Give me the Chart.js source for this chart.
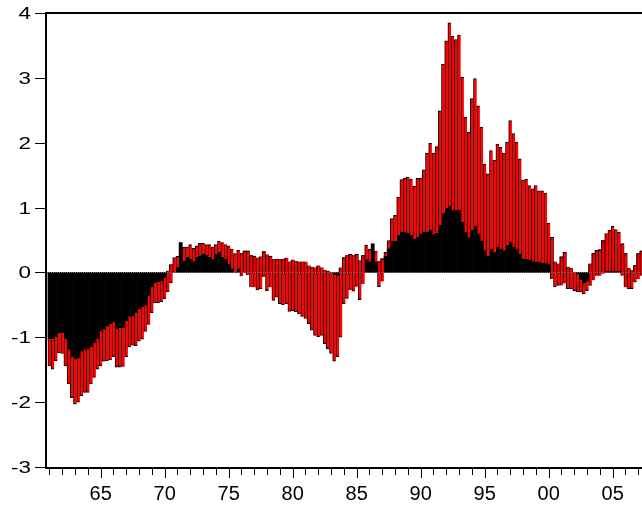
<!DOCTYPE html>
<html>
<head>
<meta charset="utf-8">
<script src="https://cdn.jsdelivr.net/npm/chart.js@4/dist/chart.umd.min.js"></script>
<style>
  html, body { margin: 0; padding: 0; background: #fff; }
  #wrap { width: 642px; height: 506px; }
</style>
</head>
<body>
<div id="wrap"><canvas id="chart"></canvas></div>
<script>
// quarterly data, 1961Q1 onwards
const startYear = 1961;

// black part of each bar (from zero)
const blackPart = [
  -1.03, -1.03, -0.99, -0.93, -0.93, -1.03, -1.19, -1.30, -1.34, -1.32,
  -1.22, -1.19, -1.18, -1.15, -1.09, -1.03, -0.90, -0.88, -0.83, -0.80,
  -0.77, -0.87, -0.86, -0.86, -0.75, -0.68, -0.68, -0.62, -0.57, -0.53,
  -0.51, -0.37, -0.23, -0.16, -0.15, -0.13, -0.08, 0.02, 0.12, 0.00,
  0.08, 0.46, 0.18, 0.24, 0.21, 0.17, 0.24, 0.26, 0.29, 0.27,
  0.24, 0.21, 0.29, 0.31, 0.24, 0.21, 0.13, 0.06, 0.00, 0.06,
  0.29, 0.33, 0.33, 0.26, 0.25, 0.22, 0.24, 0.32, 0.27, 0.25,
  0.20, 0.20, 0.20, 0.20, 0.22, 0.16, 0.19, 0.17, 0.16, 0.16,
  0.16, 0.10, 0.08, 0.07, 0.10, 0.07, 0.03, 0.02, 0.00, -0.04,
  -0.05, 0.07, 0.23, 0.26, 0.28, 0.26, 0.28, 0.18, 0.26, 0.20,
  0.17, 0.44, 0.16, 0.17, 0.21, 0.25, 0.37, 0.48, 0.48, 0.58,
  0.63, 0.62, 0.61, 0.58, 0.52, 0.55, 0.60, 0.63, 0.63, 0.66,
  0.59, 0.61, 0.73, 0.91, 0.99, 1.03, 0.96, 0.96, 0.96, 0.78,
  0.62, 0.54, 0.65, 0.72, 0.60, 0.49, 0.34, 0.25, 0.36, 0.31,
  0.39, 0.36, 0.34, 0.42, 0.47, 0.39, 0.36, 0.29, 0.21, 0.21,
  0.19, 0.17, 0.16, 0.16, 0.15, 0.14, 0.13, 0.54, 0.16, 0.13,
  0.24, 0.31, 0.08, 0.06, 0.00, -0.02, -0.12, -0.16, -0.14, 0.13,
  0.29, 0.34, 0.35, 0.49, 0.02, 0.02, 0.02, 0.02, 0.02, 0.44,
  0.29, 0.06, 0.03, 0.11, 0.29, 0.33
];

// where the red part of each bar ends
const redEnd = [
  -1.44, -1.49, -1.36, -1.24, -1.25, -1.44, -1.72, -1.93, -2.03, -2.00,
  -1.90, -1.85, -1.85, -1.72, -1.62, -1.49, -1.44, -1.37, -1.36, -1.35,
  -1.30, -1.46, -1.46, -1.45, -1.30, -1.15, -1.12, -1.13, -1.06, -1.03,
  -0.91, -0.80, -0.62, -0.47, -0.47, -0.45, -0.41, -0.30, -0.16, 0.23,
  0.25, 0.45, 0.39, 0.39, 0.43, 0.37, 0.41, 0.45, 0.45, 0.43,
  0.43, 0.39, 0.43, 0.48, 0.46, 0.43, 0.41, 0.36, 0.29, 0.34,
  -0.06, 0.00, -0.04, -0.22, -0.23, -0.27, -0.25, -0.07, -0.28, -0.23,
  -0.43, -0.38, -0.48, -0.50, -0.48, -0.60, -0.59, -0.61, -0.64, -0.68,
  -0.71, -0.79, -0.89, -0.97, -0.99, -0.97, -1.10, -1.18, -1.25, -1.37,
  -1.30, -1.00, -0.48, -0.40, -0.27, -0.29, -0.22, -0.42, -0.18, 0.42,
  0.36, 0.43, 0.33, -0.22, -0.14, 0.31, 0.49, 0.83, 0.88, 1.16,
  1.43, 1.45, 1.47, 1.44, 1.33, 1.45, 1.45, 1.58, 1.84, 1.99,
  1.84, 1.94, 2.49, 3.21, 3.57, 3.85, 3.64, 3.59, 3.66, 3.01,
  2.39, 2.16, 2.68, 2.99, 2.57, 2.24, 1.67, 1.52, 1.88, 1.73,
  1.98, 1.93, 1.84, 2.01, 2.34, 2.14, 2.01, 1.75, 1.42, 1.44,
  1.34, 1.29, 1.34, 1.26, 1.26, 1.22, 0.76, -0.10, -0.22, -0.20,
  -0.20, -0.17, -0.25, -0.25, -0.28, -0.30, -0.30, -0.33, -0.28, -0.20,
  -0.12, -0.05, -0.05, -0.02, 0.60, 0.65, 0.71, 0.66, 0.62, -0.05,
  -0.23, -0.25, -0.25, -0.15, -0.10, -0.05
];

const quarters = blackPart.map((_, i) => (startYear + Math.floor(i / 4)) + 'Q' + (i % 4 + 1));
const yTicks = [-3, -2, -1, 0, 1, 2, 3, 4];
const xLabelYears = [1965, 1970, 1975, 1980, 1985, 1990, 1995, 2000, 2005];
const xFirstTick = 1961;
const xLastTick = 2007;

function quarterToX(q) {
  const year = parseInt(q.slice(0, 4), 10);
  const qn = parseInt(q.slice(5), 10);
  return year + (qn - 1) / 4;
}

// axes box, zero line, tick marks and labels (EViews look)
const eviewsFrame = {
  id: 'eviewsFrame',
  afterDatasetsDraw(chart) {
    const { ctx, chartArea: a, scales: { x, y } } = chart;
    ctx.save();

    const y0 = Math.round(y.getPixelForValue(0)) + 0.5;
    ctx.strokeStyle = '#6a6a6a';
    ctx.lineWidth = 1;
    ctx.setLineDash([1, 1]);
    ctx.beginPath();
    ctx.moveTo(a.left, y0);
    ctx.lineTo(a.right, y0);
    ctx.stroke();
    ctx.setLineDash([]);

    ctx.strokeStyle = '#000';
    ctx.lineWidth = 2;
    ctx.beginPath();
    ctx.moveTo(a.right, a.bottom + 1);
    ctx.lineTo(a.left + 1, a.bottom + 1);
    ctx.lineTo(a.left + 1, a.top);
    ctx.lineTo(a.right, a.top);
    ctx.stroke();

    ctx.lineWidth = 1;
    ctx.fillStyle = '#000';

    // y ticks + labels (labels are drawn a bit wide, as in the source)
    ctx.font = '16px "Liberation Sans", Arial, sans-serif';
    ctx.textAlign = 'right';
    ctx.textBaseline = 'alphabetic';
    yTicks.forEach(v => {
      const py = Math.round(y.getPixelForValue(v)) + 0.5;
      ctx.beginPath();
      ctx.moveTo(35, py);
      ctx.lineTo(a.left, py);
      ctx.stroke();
      ctx.save();
      ctx.translate(31, py + 5.8);
      ctx.scale(1.4, 1);
      ctx.fillText(String(v), 0, 0);
      ctx.restore();
    });

    // x ticks, one per year, longer every five years
    for (let yr = xFirstTick; yr <= xLastTick; yr++) {
      const px = Math.round(x.getPixelForValue(yr)) + 0.5;
      const len = yr % 5 === 0 ? 9 : 6;
      ctx.beginPath();
      ctx.moveTo(px, a.bottom + 2);
      ctx.lineTo(px, a.bottom + 2 + len);
      ctx.stroke();
    }

    ctx.font = '20px "Liberation Sans", Arial, sans-serif';
    ctx.textAlign = 'center';
    xLabelYears.forEach(yr => {
      const px = x.getPixelForValue(yr);
      ctx.fillText(String(yr).slice(2), px, a.bottom + 33);
    });

    ctx.restore();
  }
};

const ctx = document.getElementById('chart').getContext('2d');
new Chart(ctx, {
  type: 'bar',
  data: {
    datasets: [
      {
        label: 'red',
        data: quarters.map((q, i) => ({ x: quarterToX(q), y: [blackPart[i], redEnd[i]] })),
        backgroundColor: '#ff0000',
        borderColor: '#000000',
        borderWidth: { left: 1, right: 0, top: 1, bottom: 1 },
        borderSkipped: 'start',
        grouped: false,
        barPercentage: 1,
        categoryPercentage: 1,
        order: 0
      },
      {
        label: 'black',
        data: quarters.map((q, i) => ({ x: quarterToX(q), y: [0, blackPart[i]] })),
        backgroundColor: '#000000',
        borderWidth: 0,
        grouped: false,
        barPercentage: 1,
        categoryPercentage: 1,
        order: 1
      }
    ]
  },
  options: {
    responsive: true,
    maintainAspectRatio: false,
    animation: false,
    layout: { padding: { top: 13, left: 0, right: 0, bottom: 0 } },
    plugins: {
      legend: { display: false },
      tooltip: { enabled: false }
    },
    scales: {
      x: {
        type: 'linear',
        offset: false,
        min: 1960.65,
        max: 2007.29,
        grid: { display: false },
        border: { display: false },
        ticks: { display: false },
        afterFit: s => { s.height = 39; }
      },
      y: {
        min: -3,
        max: 4,
        grid: { display: false },
        border: { display: false },
        ticks: { display: false },
        afterFit: s => { s.width = 45; }
      }
    }
  },
  plugins: [eviewsFrame]
});
</script>
</body>
</html>
